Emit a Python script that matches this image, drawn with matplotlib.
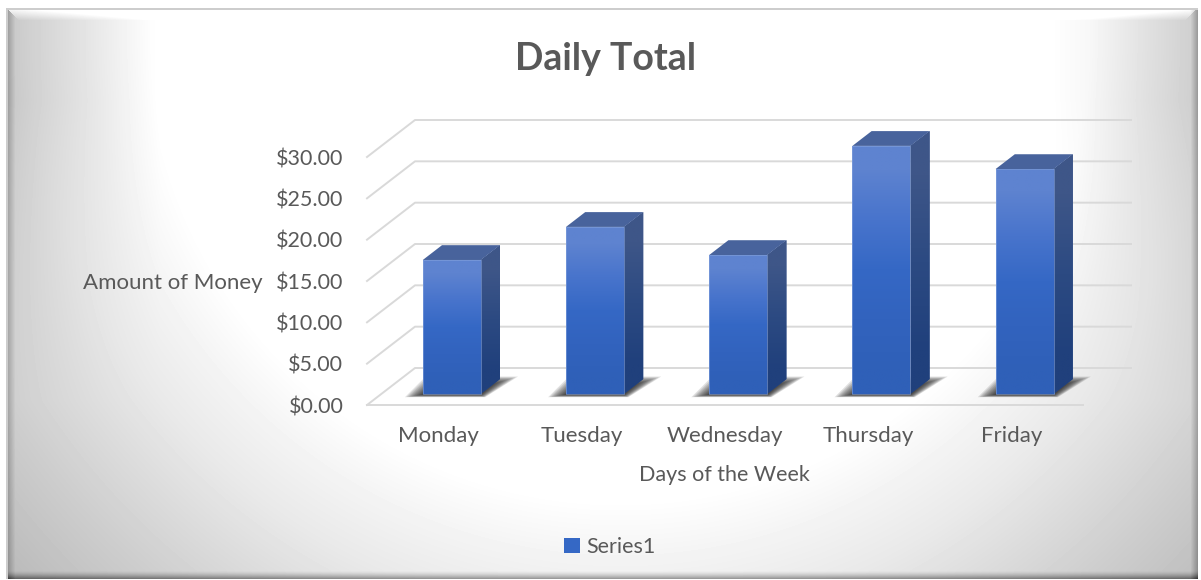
import numpy as np
import matplotlib
matplotlib.use('Agg')
import matplotlib.pyplot as plt
from matplotlib.patches import Polygon

plt.rcParams['font.family'] = ['Lato', 'DejaVu Sans']

days = ['Monday', 'Tuesday', 'Wednesday', 'Thursday', 'Friday']
totals = [16.2, 20.2, 16.8, 30.0, 27.2]
money_ticks = [0, 5, 10, 15, 20, 25, 30]

W, H = 1201, 580
text_col = '#595959'
grid_col = '#d9d9d9'

# depth of the fake 3d box, in data units
px_per_cat = 143.2
px_per_usd = 248 / 30
depth_x = 48 / px_per_cat
depth_y = 37 / px_per_usd
bar_w = 58 / px_per_cat
bar_off = 0.3     # where the bar sits in the depth
bar_depth = 0.4
y_top = 36        # axes go past $30 so the bar gradients are not cut


def vgrad(stops):
    return np.array(stops, dtype=float).reshape(-1, 1, 3) / 255


def background():
    yy, xx = np.mgrid[0:H, 0:W].astype(float)
    r = np.hypot(xx - 620, yy - 30)
    f = np.interp(r, [470, 530, 590, 650, 720, 812], [0, 12, 22, 35, 50, 68])
    upper = np.clip((400 - yy) / 300, 0, 1)
    f += 30 * np.clip((160 - xx) / 160, 0, 1) * upper
    f += 30 * np.clip((xx - 1050) / 150, 0, 1) * upper
    img = 255 - f
    x0, y0, x1, y1 = 6, 8, 1197, 578
    # bevel bands
    top = (yy >= y0) & (yy < y0 + 12) & (xx - x0 > yy - y0) & (x1 - xx > yy - y0)
    img[top] = np.minimum(255, img[top] + 50 * (1 - (yy[top] - y0) / 12))
    left = (xx >= x0) & (xx < x0 + 9) & (yy - y0 >= xx - x0)
    img[left] -= 50 * (1 - (xx[left] - x0) / 9)
    right = (xx > x1 - 7) & (xx <= x1)
    img[right] -= 50 * (1 - (x1 - xx[right]) / 7)
    bottom = (yy > y1 - 8) & (yy <= y1)
    img[bottom] -= 85 * (1 - (y1 - yy[bottom]) / 8) ** 1.5
    # thin outer border, white margin
    edge = (xx < x0 + 2) | (yy < y0 + 2)
    img[edge] = 205
    img[(xx < x0) | (yy < y0) | (xx > x1) | (yy > y1)] = 255
    return img


fig = plt.figure(figsize=(W / 100, H / 100), dpi=100)
bg = fig.add_axes([0, 0, 1, 1])
bg.imshow(background(), cmap='gray', vmin=0, vmax=255, aspect='auto')
bg.axis('off')

ax_w = 5 * px_per_cat
ax_h = y_top * px_per_usd
ax = fig.add_axes([367 / W, (H - 405) / H, ax_w / W, ax_h / H])
ax.patch.set_visible(False)
for s in ax.spines.values():
    s.set_visible(False)

x = np.arange(len(days))

# walls and floor
for m in money_ticks:
    ax.plot([-0.5, -0.5 + depth_x, 4.5 + depth_x], [m, m + depth_y, m + depth_y],
            color=grid_col, lw=1.4, clip_on=False, zorder=1)
ax.plot([-0.5, 4.5], [0, 0], color=grid_col, lw=1.4, clip_on=False, zorder=1)

# offset of the bar's front face
fx = 13.2 / px_per_cat
fy = depth_y * bar_off
sx = depth_x * bar_depth
sy = depth_y * bar_depth

front_bars = ax.bar(x + fx, totals, width=bar_w, bottom=fy, color='#3568c5',
                    label='Series1', zorder=4, clip_on=False)
ax.bar(x + fx, totals, width=bar_w, bottom=fy, fill=False, edgecolor='#86a4de', lw=0.4,
       zorder=4.15, clip_on=False)

for xi, v, rect in zip(x, totals, front_bars):
    l = xi + fx - bar_w / 2
    r = l + bar_w
    b = fy
    t = fy + v

    # soft shadow on the floor
    for k in range(12):
        ax.add_patch(Polygon([(l - 0.125 + k * 0.012, b - 0.4 + k * 0.03),
                              (r + 0.03 - k * 0.003, b - 0.4 + k * 0.03),
                              (r + 0.26 - k * 0.017, b + 2.1 - k * 0.09),
                              (l + 0.02 + k * 0.01, b + 2.1 - k * 0.09)],
                             closed=True, fc='#111111', ec='none', alpha=0.12,
                             zorder=3, clip_on=False))

    # front face gradient
    im = ax.imshow(vgrad([(94, 131, 208), (72, 116, 204), (53, 104, 197), (50, 99, 190), (47, 96, 184)]),
                   extent=(l, r, b, t), aspect='auto', zorder=4.1, interpolation='bilinear')
    im.set_clip_path(rect)

    # side face
    side = Polygon([(r, b), (r + sx, b + sy), (r + sx, t + sy), (r, t)], closed=True,
                   fc='#2a4a88', ec='none', zorder=4, clip_on=False)
    ax.add_patch(side)
    im2 = ax.imshow(vgrad([(62, 86, 136), (44, 74, 130), (32, 64, 124)]),
                    extent=(r, r + sx, b, t + sy), aspect='auto', zorder=4.1, interpolation='bilinear')
    im2.set_clip_path(side)

    # top face
    ax.add_patch(Polygon([(l, t), (r, t), (r + sx, t + sy), (l + sx, t + sy)], closed=True,
                         fc='#48639c', ec='none', zorder=4.2, clip_on=False))

ax.set_xlim(-0.5, 4.5)
ax.set_ylim(0, y_top)

ax.set_xticks(x)
ax.set_xticklabels(days)
ax.set_yticks(money_ticks)
ax.set_yticklabels(['$%.2f' % m for m in money_ticks])
ax.tick_params(axis='x', length=0, pad=15, labelsize=16, labelcolor=text_col)
ax.tick_params(axis='y', length=0, pad=17, labelsize=15.5, labelcolor=text_col)

ax.set_xlabel('Days of the Week', fontsize=15.5, color=text_col, va='center')
ax.xaxis.set_label_coords((724 - 367) / ax_w, -70 / ax_h)
ax.set_ylabel('Amount of Money', fontsize=16, color=text_col, rotation=0, ha='center', va='center')
ax.yaxis.set_label_coords((172.5 - 367) / ax_w, 122 / ax_h)

fig.text(606 / W, 1 - 59 / H, 'Daily Total', fontsize=27, fontweight='bold', color=text_col,
         ha='center', va='center')

ax.legend(handles=[front_bars], loc='center', bbox_to_anchor=(610 / W, 1 - 547 / H),
          bbox_transform=fig.transFigure, frameon=False, fontsize=15.5, labelcolor=text_col,
          handlelength=0.72, handleheight=0.72, handletextpad=0.3)

fig.savefig('out.png', dpi=100)
